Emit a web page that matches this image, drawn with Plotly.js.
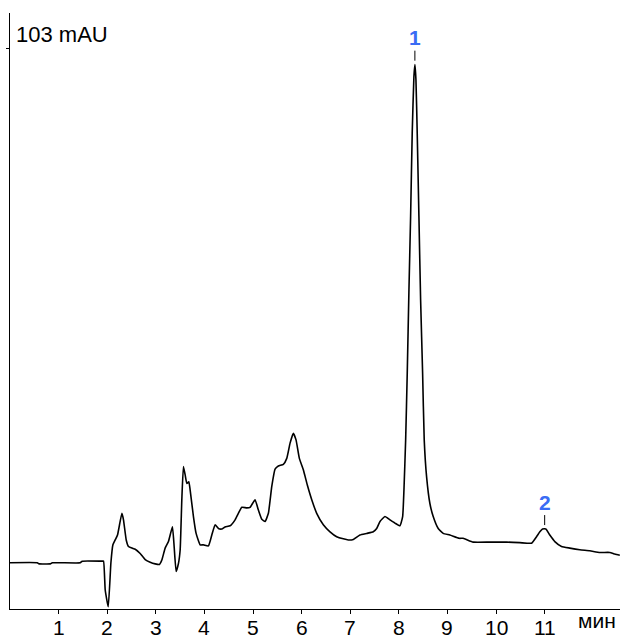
<!DOCTYPE html>
<html>
<head>
<meta charset="utf-8">
<script src="https://cdn.plot.ly/plotly-3.0.1.min.js"></script>
<style>
  html, body { margin: 0; padding: 0; background: #fff; }
  #chart { width: 620px; height: 639px; }
</style>
</head>
<body>
<div id="chart"></div>
<script>
// Retention time, min
var timeMin = [0.000, 0.561, 0.600, 0.828, 0.870, 1.445, 1.486, 1.897, 1.924, 1.959, 2.021, 2.076,
  2.117, 2.164, 2.212, 2.302, 2.335, 2.391, 2.438, 2.508, 2.576, 2.678, 2.781, 2.884, 2.987, 3.075,
  3.124, 3.192, 3.260, 3.342, 3.377, 3.418, 3.466, 3.501, 3.535, 3.568, 3.603, 3.638, 3.679, 3.706,
  3.774, 3.829, 3.912, 3.979, 4.082, 4.152, 4.220, 4.288, 4.358, 4.425, 4.528, 4.631, 4.699, 4.769,
  4.871, 4.939, 5.042, 5.110, 5.180, 5.248, 5.316, 5.385, 5.453, 5.521, 5.624, 5.694, 5.762, 5.829,
  5.885, 5.953, 6.035, 6.117, 6.208, 6.310, 6.446, 6.584, 6.721, 6.857, 6.960, 7.063, 7.200, 7.338,
  7.474, 7.544, 7.612, 7.714, 7.817, 7.920, 8.023, 8.078, 8.105, 8.140, 8.173, 8.208, 8.242, 8.275,
  8.310, 8.331, 8.352, 8.378, 8.413, 8.448, 8.489, 8.522, 8.571, 8.639, 8.707, 8.810, 8.913, 9.050,
  9.241, 9.324, 9.529, 9.872, 10.216, 10.489, 10.730, 10.833, 10.901, 10.956, 11.024, 11.106, 11.209,
  11.347, 11.517, 11.723, 11.929, 12.135, 12.340, 12.443, 12.546];
// Detector signal, mAU
var signalMAU = [8.5, 8.5, 8.3, 8.3, 8.5, 8.5, 8.8, 8.8, 8.8, 3.5, 0.4, 8.5,
  11.8, 12.7, 13.6, 17.6, 16.4, 12.7, 11.5, 11.2, 11.0, 10.2, 9.1, 8.6, 8.3, 8.2,
  9.0, 11.2, 12.4, 15.1, 11.5, 6.9, 8.4, 10.9, 20.1, 26.2, 24.7, 23.1, 23.4, 21.9,
  17.0, 13.9, 11.8, 11.8, 11.6, 13.6, 15.5, 14.8, 14.7, 15.1, 15.3, 16.4, 17.6, 18.7,
  18.6, 18.7, 20.1, 18.2, 16.5, 16.1, 17.6, 22.5, 25.7, 26.3, 26.6, 27.7, 30.5, 32.3,
  31.1, 27.7, 25.6, 22.8, 20.1, 17.6, 15.5, 14.2, 13.3, 12.9, 12.7, 12.8, 13.6, 13.9,
  14.2, 14.8, 16.1, 17.0, 16.4, 15.8, 15.3, 17.0, 21.9, 31.1, 43.4, 58.7, 72.2, 87.5,
  97.9, 100.1, 97.3, 87.5, 72.2, 56.8, 43.4, 31.1, 24.3, 19.4, 17.0, 14.8, 13.9, 13.6,
  13.0, 13.0, 12.3, 12.3, 12.3, 12.2, 12.1, 13.3, 14.2, 14.7, 14.7, 13.6, 12.4,
  11.5, 11.2, 10.9, 10.7, 10.4, 10.4, 10.1, 9.9];

var xTickVals = [1, 2, 3, 4, 5, 6, 7, 8, 9, 10, 11];
var xTickText = ['1', '2', '3', '4', '5', '6', '7', '8', '9', '10', '11'];
var yTopTick = 103;
var yUnitLabel = '103 mAU';
var xUnitLabel = 'мин';
var peakNames = ['1', '2'];
var peakTimes = [8.33, 11.0];

var FONT = 'Arial, "Liberation Sans", sans-serif';

function peakHeight(t) {
  var best = -Infinity;
  for (var i = 0; i < timeMin.length; i++) {
    if (Math.abs(timeMin[i] - t) < 0.15 && signalMAU[i] > best) best = signalMAU[i];
  }
  return best;
}

var annotations = peakNames.map(function (n, i) {
  return {
    x: peakTimes[i], y: peakHeight(peakTimes[i]), xref: 'x', yref: 'y',
    text: '<b>' + n + '</b>', showarrow: true, arrowhead: 0, arrowwidth: 1,
    arrowcolor: '#000', ax: 0, ay: -27, standoff: 4,
    font: { family: FONT, size: 21, color: '#3a6cf4' }
  };
});
xTickVals.forEach(function (v, i) {
  annotations.push({
    x: v, y: 0, xref: 'x', yref: 'paper', xanchor: 'center', yanchor: 'middle',
    text: xTickText[i], showarrow: false, yshift: -18, borderpad: 0,
    font: { family: FONT, size: 21, color: '#000' }
  });
});
annotations.push({
  x: 0, y: yTopTick, xref: 'paper', yref: 'y', xanchor: 'left', yanchor: 'bottom',
  text: yUnitLabel, showarrow: false, xshift: 4, yshift: 0,
  font: { family: FONT, size: 22, color: '#000' }
});
annotations.push({
  x: 1, y: 0, xref: 'paper', yref: 'paper', xanchor: 'right', yanchor: 'middle',
  text: xUnitLabel, showarrow: false, xshift: -3, yshift: -11, borderpad: 0,
  font: { family: FONT, size: 21, color: '#000' }
});

var trace = {
  x: timeMin, y: signalMAU, type: 'scatter', mode: 'lines',
  line: { color: '#000', width: 1.6, shape: 'spline', smoothing: 0.4 },
  hoverinfo: 'skip'
};

var layout = {
  width: 620, height: 639,
  margin: { l: 10, r: 0, t: 13, b: 30 },
  paper_bgcolor: '#fff', plot_bgcolor: '#fff',
  showlegend: false,
  font: { family: FONT, color: '#000' },
  xaxis: {
    range: [0, 12.55], tickvals: xTickVals, showticklabels: false,
    ticks: 'outside', ticklen: 4, tickwidth: 1, tickcolor: '#000',
    showline: true, linecolor: '#000', linewidth: 1, showgrid: false, zeroline: false,
    fixedrange: true
  },
  yaxis: {
    range: [0, 109.6], tickvals: [yTopTick], showticklabels: false,
    ticks: 'outside', ticklen: 3, tickwidth: 1, tickcolor: '#000',
    showline: true, linecolor: '#000', linewidth: 1, showgrid: false, zeroline: false,
    fixedrange: true
  },
  annotations: annotations
};

Plotly.newPlot('chart', [trace], layout, { displayModeBar: false, staticPlot: true });
</script>
</body>
</html>
